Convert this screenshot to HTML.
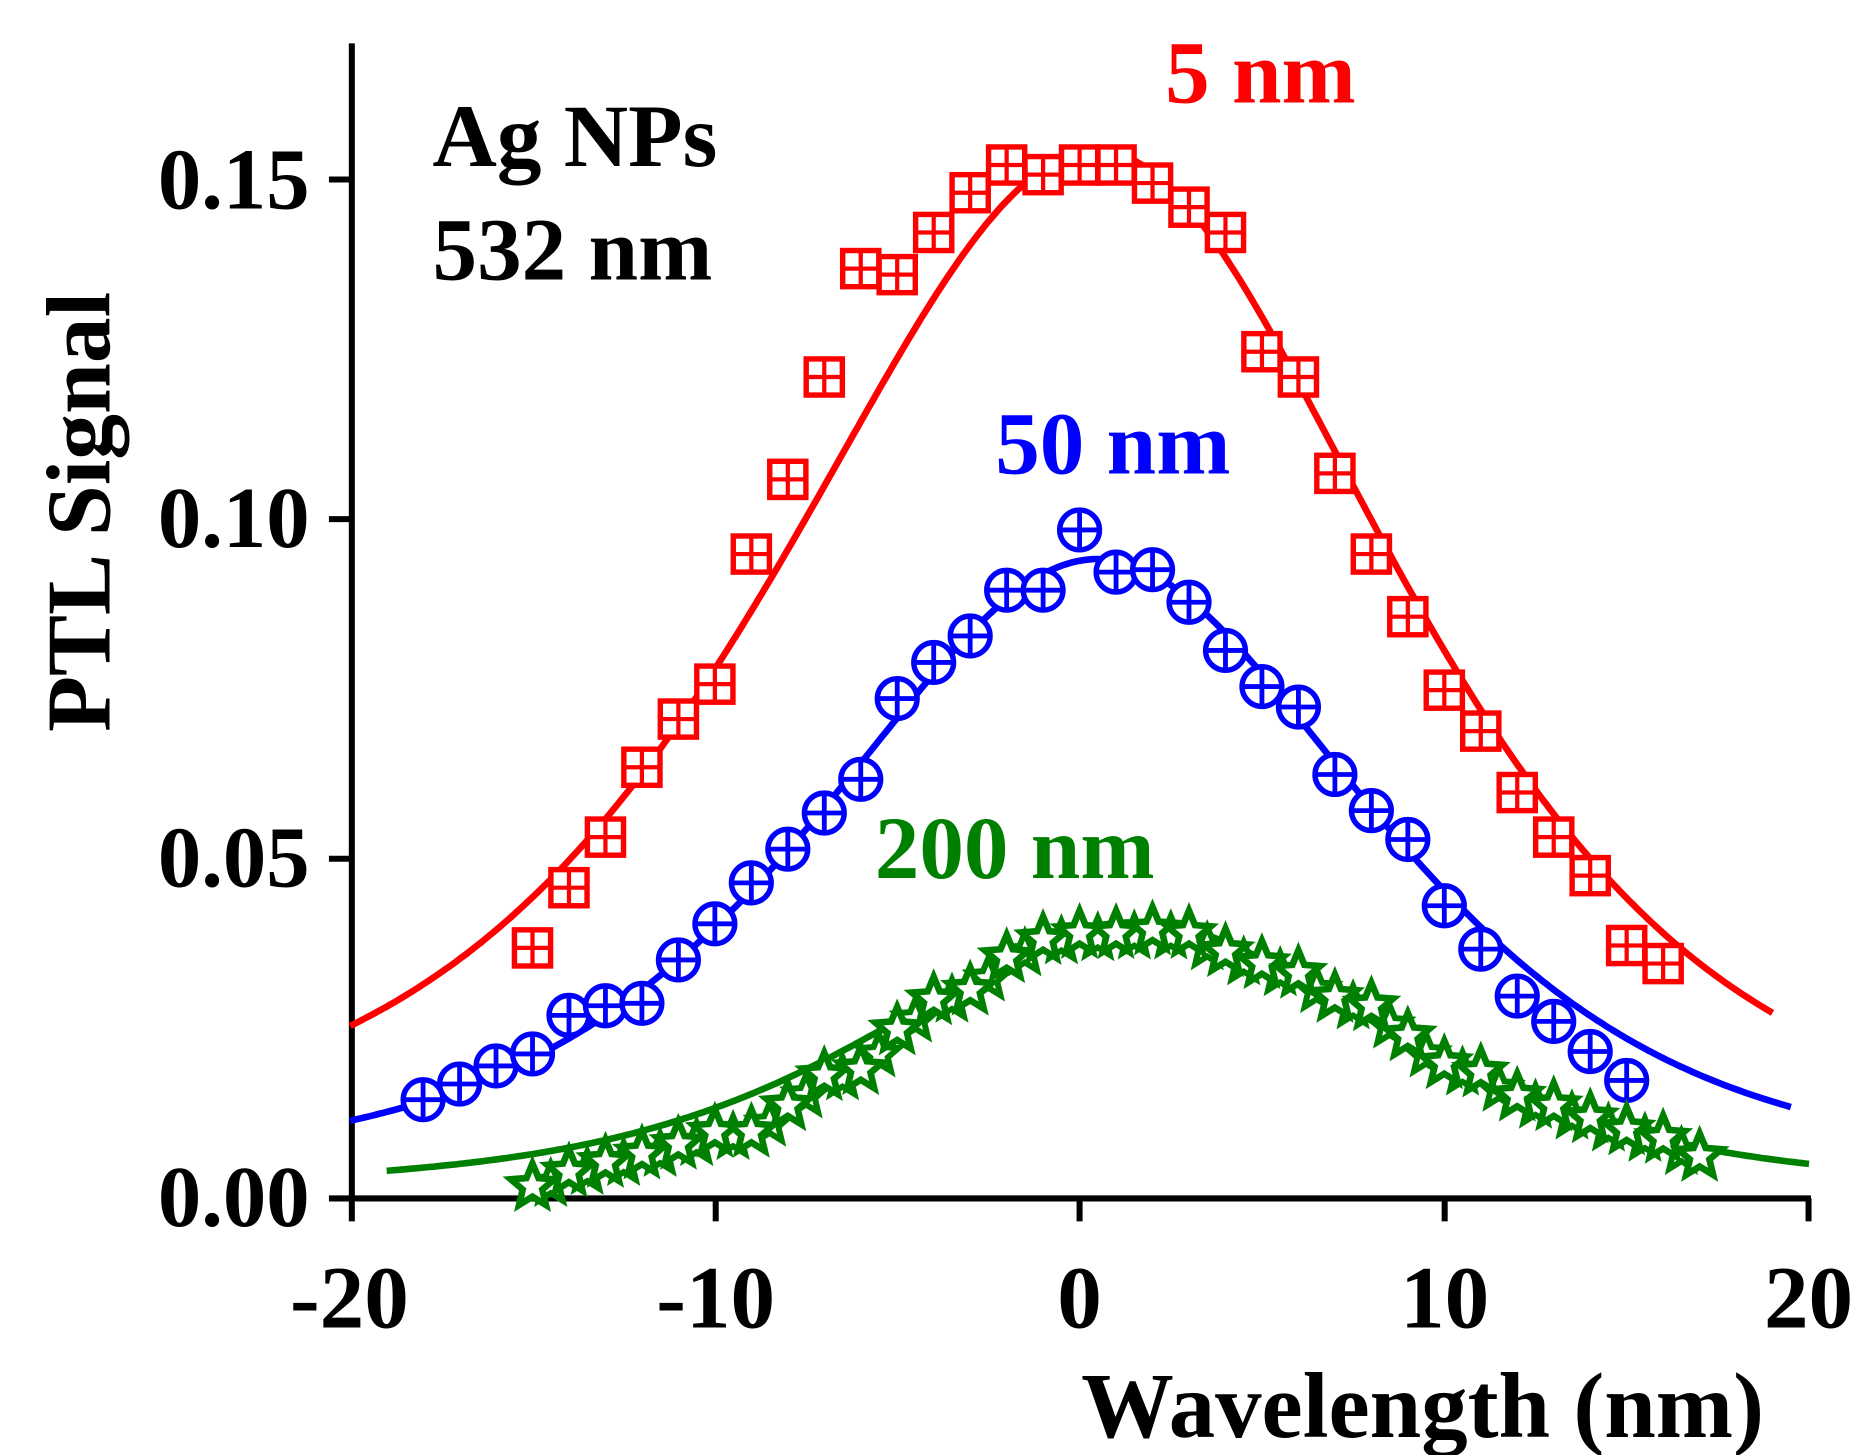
<!DOCTYPE html>
<html><head><meta charset="utf-8"><style>html,body{margin:0;padding:0;background:#fff}svg{display:block}</style></head>
<body>
<svg id="s" width="1870" height="1455" viewBox="0 0 1552 1208" preserveAspectRatio="none" xmlns="http://www.w3.org/2000/svg" font-family="Liberation Serif, serif" font-weight="bold">
<rect width="1552" height="1208" fill="#fff"/>
<g stroke="#000" stroke-width="5" fill="none">
<line x1="292" y1="36" x2="292" y2="997"/>
<line x1="290" y1="995" x2="1503" y2="995"/>
<line x1="292" y1="995" x2="292" y2="1014"/><line x1="594" y1="995" x2="594" y2="1014"/><line x1="896" y1="995" x2="896" y2="1014"/><line x1="1199" y1="995" x2="1199" y2="1014"/><line x1="1501" y1="995" x2="1501" y2="1014"/>
<line x1="273" y1="995" x2="292" y2="995"/><line x1="273" y1="713" x2="292" y2="713"/><line x1="273" y1="431" x2="292" y2="431"/><line x1="273" y1="149" x2="292" y2="149"/>
</g>
<g font-size="72" text-anchor="end">
<text x="257" y="1018">0.00</text><text x="257" y="736">0.05</text><text x="257" y="454">0.10</text><text x="257" y="173">0.15</text>
</g>
<g font-size="74" text-anchor="middle">
<text x="290" y="1102">-20</text><text x="594" y="1102">-10</text><text x="896" y="1102">0</text><text x="1199" y="1102">10</text><text x="1501" y="1102">20</text>
</g>
<text x="1464" y="1193" font-size="77" text-anchor="end">Wavelength (nm)</text>
<text transform="translate(91,425) rotate(-90)" font-size="76" text-anchor="middle">PTL Signal</text>
<text x="359" y="138" font-size="74">Ag NPs</text>
<text x="359" y="232" font-size="74">532 nm</text>
<text x="967" y="85" font-size="74" fill="#ff0000">5 nm</text>
<text x="826" y="393" font-size="74" fill="#0000ff">50 nm</text>
<text x="726" y="729" font-size="74" fill="#008000">200 nm</text>
<g id="g"></g>
</svg>
<script>
var NS="http://www.w3.org/2000/svg",G=document.getElementById("g");
function X(v){return 896+30.27*v}
function Y(v){return 995-v*5647}
function el(n,a){var e=document.createElementNS(NS,n);for(var k in a)e.setAttribute(k,a[k]);G.appendChild(e);return e}
function curve(A,c,wl,wr,eta,x0,x1,col){var d="";for(var x=x0;x<=x1+1e-9;x+=0.1){var w=x<c?wl:wr;var u=(x-c)/w;var f=A*(eta/(1+u*u)+(1-eta)*Math.exp(-0.693*u*u));d+=(d?"L":"M")+X(x).toFixed(1)+" "+Y(f).toFixed(1)}el("path",{d:d,fill:"none",stroke:col,"stroke-width":5.5})}
curve(0.154,0.5,10.6,9.9,0.66,-20,19,"#ff0000");
curve(0.094,0.5,9.2,9.2,0.66,-20,19.5,"#0000ff");
curve(0.0406,1.5,8.5,8.5,0.64,-19,20,"#008000");
var red=[[-15,787],[-14,737],[-13,695],[-12,637],[-11,597],[-10,568],[-9,460],[-8,398],[-7,313],[-6,223],[-5,228],[-4,193],[-3,160],[-2,137],[-1,145],[0,137],[1,137],[2,152],[3,172],[4,193],[5,292],[6,313],[7,393],[8,460],[9,512],[10,573],[11,607],[12,658],[13,695],[14,727],[15,785],[16,800]];
red.forEach(function(p){var x=X(p[0]),y=p[1],h=15;el("rect",{x:x-h,y:y-h,width:2*h,height:2*h,fill:"#fff",stroke:"#ff0000","stroke-width":4.5});el("path",{d:"M"+(x-h)+" "+y+"H"+(x+h)+"M"+x+" "+(y-h)+"V"+(y+h),stroke:"#ff0000","stroke-width":3.5});});
var blue=[[-18,913],[-17,900],[-16,885],[-15,875],[-14,843],[-13,835],[-12,833],[-11,797],[-10,767],[-9,733],[-8,705],[-7,675],[-6,647],[-5,580],[-4,550],[-3,528],[-2,490],[-1,490],[0,440],[1,475],[2,473],[3,500],[4,540],[5,570],[6,587],[7,643],[8,673],[9,697],[10,752],[11,788],[12,827],[13,848],[14,873],[15,897]];
blue.forEach(function(p){var x=X(p[0]),y=p[1],r=16.5;el("circle",{cx:x,cy:y,r:r,fill:"#fff",stroke:"#0000ff","stroke-width":4.5});el("path",{d:"M"+(x-r)+" "+y+"H"+(x+r)+"M"+x+" "+(y-r)+"V"+(y+r),stroke:"#0000ff","stroke-width":4});});
var gr=[[-15,985],[-14,973],[-13,965],[-12,958],[-11,950],[-10,940],[-9,940],[-8,918],[-7,893],[-6,888],[-5,855],[-4,830],[-3,822],[-2,795],[-1,780],[0,775],[1,775],[2,772],[3,775],[4,790],[5,800],[6,808],[7,828],[8,835],[9,860],[10,883],[11,890],[12,910],[13,918],[14,928],[15,938],[16,945],[17,960]];
function star(x,y,R){var d="";for(var i=0;i<10;i++){var r=i%2?R*0.45:R,a=-Math.PI/2+i*Math.PI/5;d+=(i?"L":"M")+(x+r*Math.cos(a)).toFixed(1)+" "+(y+r*Math.sin(a)).toFixed(1)}return d+"Z"}
gr.forEach(function(p,i){var x=X(p[0]),y=p[1];if(i<gr.length-1){var q=gr[i+1];el("path",{d:star(X(p[0]+0.5),(p[1]+q[1])/2+4,17),fill:"#fff",stroke:"#008000","stroke-width":5});}el("path",{d:star(x,y,19),fill:"#fff",stroke:"#008000","stroke-width":5.5});});
</script>
</body></html>
